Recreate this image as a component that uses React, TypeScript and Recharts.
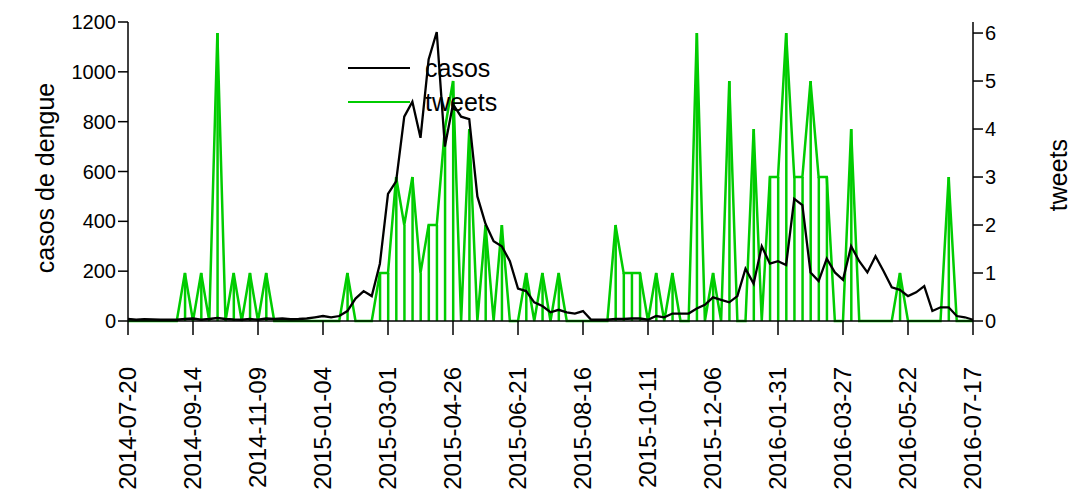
import React from "react";
import { ComposedChart, Line, Bar, XAxis, YAxis } from "recharts";

const START = "2014-07-20";
const CASOS = [
  8, 5, 7, 6, 5, 5, 5, 8, 10, 5, 8, 12, 8, 6, 5, 8, 5, 10, 8, 10, 7, 8, 10,
  15, 20, 15, 20, 40, 90, 120, 100, 230, 510, 560, 820, 880, 735, 1050, 1160, 700,
  870, 820, 810, 500, 390, 320, 300, 240, 130, 120, 75, 60, 35, 45, 35, 30, 40, 5,
  5, 5, 8, 8, 10, 10, 5, 20, 15, 30, 30, 30, 50, 65, 95, 85, 75, 100, 210, 150,
  300, 230, 240, 225, 490, 465, 195, 160, 250, 195, 165, 300, 240, 195, 260, 200,
  135, 125, 100, 115, 140, 40, 55, 55, 20, 15, 5,
];
const TWEETS_NONZERO: [number, number][] = [
  [7, 1], [9, 1], [11, 6], [13, 1], [15, 1], [17, 1], [27, 1], [31, 1], [32, 1],
  [33, 3], [34, 2], [35, 3], [36, 1], [37, 2], [38, 2], [39, 4], [40, 5], [42, 4],
  [44, 2], [46, 2], [49, 1], [51, 1], [53, 1], [60, 2], [61, 1], [62, 1], [63, 1],
  [65, 1], [67, 1], [70, 6], [72, 1], [74, 5], [77, 4], [79, 3], [80, 3], [81, 6],
  [82, 3], [83, 3], [84, 5], [85, 3], [86, 3], [89, 4], [95, 1], [101, 3],
];
const X_TICKS = [0, 8, 16, 24, 32, 40, 48, 56, 64, 72, 80, 88, 96, 104];
const LEFT_TICKS = [0, 200, 400, 600, 800, 1000, 1200];
const RIGHT_TICKS = [0, 1, 2, 3, 4, 5, 6];

const tweetMap = new Map(TWEETS_NONZERO);
const data = CASOS.map((c, i) => ({ i, casos: c, tweets: tweetMap.get(i) ?? 0 }));

function weekLabel(i: number) {
  const d = new Date(START + "T00:00:00Z");
  d.setUTCDate(d.getUTCDate() + i * 7);
  return d.toISOString().slice(0, 10);
}

const font = "'Liberation Sans', Arial, sans-serif";
const tick = { fontSize: 20, fill: "#000", fontFamily: font };

function DateTick(props: any) {
  const { x, y, payload } = props;
  const ty = y + 30;
  return (
    <text x={x + 8} y={ty} transform={`rotate(-90 ${x + 8} ${ty})`} textAnchor="end" fontSize={24} fontFamily={font} fill="#000">
      {weekLabel(payload.value)}
    </text>
  );
}

export default function App() {
  return (
    <div style={{ position: "absolute", left: 0, top: 0, width: 1076, height: 493, background: "#fff", fontFamily: font, overflow: "hidden" }}>
      <ComposedChart width={1076} height={493} data={data} margin={{ top: 22, right: 40, left: 68, bottom: 0 }}>
        <XAxis
          dataKey="i"
          type="number"
          domain={[0, 104]}
          ticks={X_TICKS}
          interval={0}
          tick={<DateTick />}
          tickSize={14}
          height={172}
          stroke="#000"
          strokeWidth={1.5}
        />
        <YAxis
          yAxisId="l"
          domain={[0, 1200]}
          ticks={LEFT_TICKS}
          tick={tick}
          tickSize={10}
          width={60}
          stroke="#000"
          strokeWidth={1.5}
        />
        <YAxis
          yAxisId="r"
          orientation="right"
          domain={[0, 6.23]}
          ticks={RIGHT_TICKS}
          tick={tick}
          tickSize={10}
          width={63}
          stroke="#000"
          strokeWidth={1.5}
        />
        <Bar yAxisId="r" dataKey="tweets" fill="#00cc00" barSize={2.5} isAnimationActive={false} />
        <Line yAxisId="r" dataKey="tweets" type="linear" stroke="#00cc00" strokeWidth={2.5} dot={false} isAnimationActive={false} />
        <Line yAxisId="l" dataKey="casos" type="linear" stroke="#000" strokeWidth={2.3} dot={false} isAnimationActive={false} />
      </ComposedChart>
      <div style={{ position: "absolute", left: 45, top: 178, transform: "translate(-50%,-50%) rotate(-90deg)", fontSize: 25, whiteSpace: "nowrap" }}>
        casos de dengue
      </div>
      <div style={{ position: "absolute", left: 1058, top: 175, transform: "translate(-50%,-50%) rotate(-90deg)", fontSize: 25, whiteSpace: "nowrap" }}>
        tweets
      </div>
      <div style={{ position: "absolute", left: 348, top: 67, width: 62, height: 2, background: "#000" }} />
      <div style={{ position: "absolute", left: 348, top: 101, width: 62, height: 2, background: "#00cc00" }} />
      <div style={{ position: "absolute", left: 425, top: 53, fontSize: 25, lineHeight: "30px" }}>casos</div>
      <div style={{ position: "absolute", left: 425, top: 87, fontSize: 25, lineHeight: "30px" }}>tweets</div>
    </div>
  );
}
